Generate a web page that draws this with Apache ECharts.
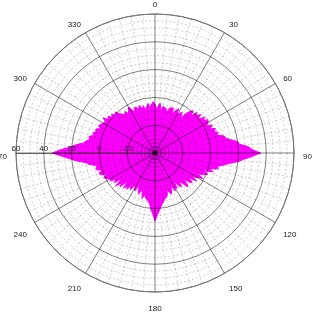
<!DOCTYPE html>
<html>
<head>
<meta charset="utf-8">
<script src="https://cdn.jsdelivr.net/npm/echarts@6/dist/echarts.min.js"></script>
<style>html,body{margin:0;padding:0;background:#fff;}#c{width:314px;height:312px;}</style>
</head>
<body>
<div id="c"></div>
<script>
// Reference angles (degrees, clockwise from top), every 2 degrees
const angles = [];
for (let a = 0; a < 360; a += 2) angles.push(a);
// Pattern values (dB), one per angle above
const gainDb = [
  -5, -8, -6, -4, -9, -6, -5, -7, -10, -6,
  -7, -5, -9, -6, -4, -8, -6, -5, -9, -4,
  -1, 1, -3, 2, 0, 3, -1, 4, 2, 5,
  4, 2, 6, 3, 7, 5, 8, 6, 11, 12,
  15, 20, 21, 27, 30, 36, 30, 24, 20, 14,
  10, 6, 7, 1, 4, -3, 1, -2, -6, -1,
  -5, -8, -4, -10, -6, -7, -12, -8, -6, -11,
  -13, -9, -11, -15, -10, -12, -9, -14, -11, -8,
  -10, -12, -8, -9, -6, -7, -3, -4, 2, 5,
  9, 4, 1, -3, -5, -4, -7, -9, -6, -10,
  -12, -8, -11, -14, -9, -10, -13, -8, -11, -7,
  -9, -6, -12, -5, -8, -3, -10, -4, -6, -2,
  -3, -1, 1, -2, 2, 3, 0, 4, 5, 3,
  8, 10, 16, 21, 27, 34, 28, 21, 17, 12,
  10, 8, 9, 6, 7, 5, 6, 3, 5, 4,
  4, 2, 5, 1, 3, 0, 2, -1, 1, -2,
  -2, -5, -3, -6, -4, -2, -5, -7, -4, -3,
  -6, -4, -7, -5, -8, -6, -4, -7, -5, -3
];
const radiusMin = -40, radiusMax = 60, radiusStep = 20;
const angleStep = 30;

// data angle: axis starts at the left (reference 270) and runs clockwise
const seriesData = angles.map((a, i) => [gainDb[i], (a + 90) % 360]);
seriesData.push([gainDb[0], 90]);

const chart = echarts.init(document.getElementById('c'), null, {renderer: 'canvas'});
const font = {fontSize: 8, color: '#222', fontFamily: 'Liberation Sans, Arial, sans-serif'};
const hiddenAxis = {
  axisLine: {show: false}, axisTick: {show: false}, axisLabel: {show: false},
  splitLine: {show: false}, minorSplitLine: {show: false}
};
chart.setOption({
  animation: false,
  backgroundColor: '#fff',
  polar: [
    {center: [155, 153], radius: 139},
    {center: [155, 157], radius: 139},
    {center: [155, 144], radius: 139}
  ],
  angleAxis: [
    {
      polarIndex: 0, type: 'value', min: 0, max: 360, interval: angleStep,
      startAngle: 180, clockwise: true, z: 5,
      axisLine: {show: true, lineStyle: {color: '#777', width: 1}},
      axisTick: {show: false},
      axisLabel: {show: false},
      splitLine: {show: true, lineStyle: {color: 'rgba(0,0,0,0.5)', width: 1}},
      minorTick: {show: false, splitNumber: 6},
      minorSplitLine: {show: true, lineStyle: {color: 'rgba(0,0,0,0.24)', width: 0.8, type: [2, 2]}}
    },
    Object.assign({}, hiddenAxis, {
      polarIndex: 1, type: 'value', min: 0, max: 360, interval: angleStep,
      startAngle: 180, clockwise: true,
      axisLabel: Object.assign({show: true, margin: 9, formatter: v => String((v + 270) % 360)}, font)
    }),
    Object.assign({}, hiddenAxis, {
      polarIndex: 2, type: 'value', min: 0, max: 360, interval: angleStep,
      startAngle: 180, clockwise: true
    })
  ],
  radiusAxis: [
    {
      polarIndex: 0, type: 'value', min: radiusMin, max: radiusMax, interval: radiusStep, z: 5,
      axisLine: {show: true, lineStyle: {color: 'rgba(0,0,0,0.5)'}},
      axisTick: {show: false},
      axisLabel: {show: false},
      splitLine: {show: true, lineStyle: {color: 'rgba(0,0,0,0.5)', width: 1}},
      minorTick: {show: false, splitNumber: 4},
      minorSplitLine: {show: true, lineStyle: {color: 'rgba(0,0,0,0.24)', width: 0.8, type: [2, 2]}}
    },
    Object.assign({}, hiddenAxis, {
      polarIndex: 1, type: 'value', min: radiusMin, max: radiusMax, interval: radiusStep
    }),
    Object.assign({}, hiddenAxis, {
      polarIndex: 2, type: 'value', min: radiusMin, max: radiusMax, interval: radiusStep, z: 6,
      axisLabel: Object.assign({show: true, showMinLabel: false, margin: 1}, font)
    })
  ],
  series: [{
    type: 'line', coordinateSystem: 'polar', polarIndex: 0, z: 2,
    data: seriesData, showSymbol: false, smooth: false,
    lineStyle: {color: '#ff00ff', width: 1},
    areaStyle: {color: '#ff00ff', opacity: 1, origin: 'start'}
  }]
});
</script>
</body>
</html>
